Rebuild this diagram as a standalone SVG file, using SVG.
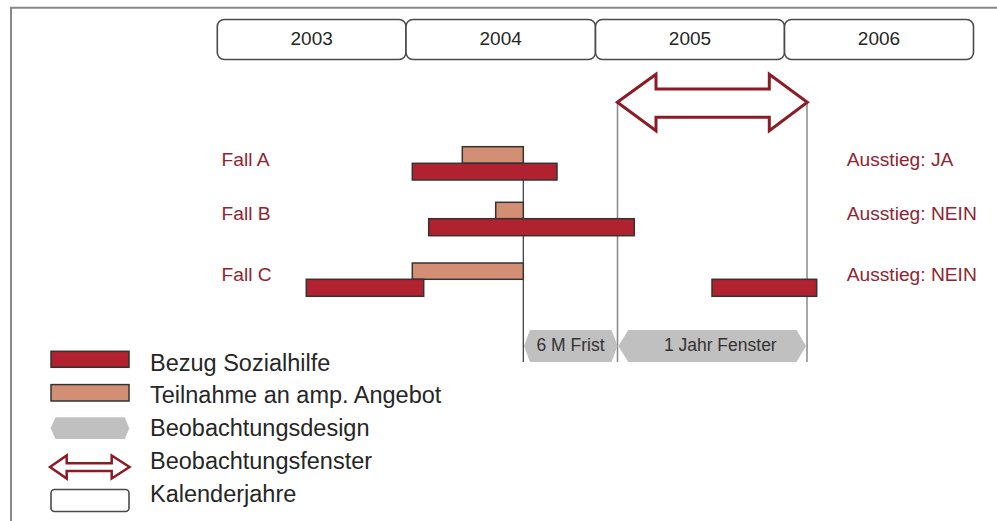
<svg xmlns="http://www.w3.org/2000/svg" width="997" height="521" viewBox="0 0 997 521">
<defs>
<style>
text{font-family:"Liberation Sans",Arial,sans-serif}
.year{fill:#fff;stroke:#4a4a4a;stroke-width:1.6}
.yt{font-size:19px;fill:#262626;text-anchor:middle}
.red{fill:#B0222F;stroke:#333;stroke-width:1.5}
.ora{fill:#D38F73;stroke:#333;stroke-width:1.5}
.hex{fill:#C0C0C0}
.ht{font-size:17.5px;fill:#333;text-anchor:middle}
.lbl{font-size:19.2px;fill:#8E2531}
.leg{font-size:23.5px;fill:#262626}
.arr{fill:#fff;stroke:#8B1C26;stroke-linejoin:miter}
.vg{stroke:#888;stroke-width:1.5;fill:none}
.vk{stroke:#333;stroke-width:1.2;fill:none}
</style>
</defs>
<rect width="997" height="521" fill="#fff"/>
<path d="M11 521V7.7H997" fill="none" stroke="#888" stroke-width="2"/>
<g id="years">
<g id="y2003"><rect class="year" x="217.3" y="19.5" width="188.7" height="40" rx="7"/><text class="yt" x="311.7" y="44.5">2003</text></g>
<g id="y2004"><rect class="year" x="406" y="19.5" width="189.5" height="40" rx="7"/><text class="yt" x="500.7" y="44.5">2004</text></g>
<g id="y2005"><rect class="year" x="595.5" y="19.5" width="189" height="40" rx="7"/><text class="yt" x="690" y="44.5">2005</text></g>
<g id="y2006"><rect class="year" x="784.5" y="19.5" width="189" height="40" rx="7"/><text class="yt" x="879" y="44.5">2006</text></g>
</g>
<g id="connectors">
<line class="vk" x1="523.3" y1="180" x2="523.3" y2="362"/>
<line class="vg" x1="617.5" y1="102" x2="617.5" y2="362"/>
<line class="vg" x1="807" y1="102" x2="807" y2="362"/>
</g>
<g id="window">
<polygon class="arr" stroke-width="3" points="617.3,102.3 656,74.3 656,89 769.3,89 769.3,74.3 807.3,102.3 769.3,130.7 769.3,117.3 656,117.3 656,130.7"/>
</g>
<g id="fallA">
<rect class="ora" x="462.3" y="146.7" width="61" height="16.6"/>
<rect class="red" x="412.3" y="163.3" width="144.7" height="16.7"/>
<text class="lbl" x="221.5" y="166">Fall A</text>
<text class="lbl" x="846.7" y="165.5">Ausstieg: JA</text>
</g>
<g id="fallB">
<rect class="ora" x="495.7" y="202.3" width="27.6" height="16.4"/>
<rect class="red" x="428.7" y="218.7" width="205.6" height="17"/>
<text class="lbl" x="221.5" y="220">Fall B</text>
<text class="lbl" x="846.7" y="220">Ausstieg: NEIN</text>
</g>
<g id="fallC">
<rect class="ora" x="412.3" y="263" width="111" height="16.3"/>
<rect class="red" x="306.3" y="279.3" width="117.4" height="17"/>
<rect class="red" x="712" y="279.3" width="104.7" height="17"/>
<text class="lbl" x="221.5" y="280.5">Fall C</text>
<text class="lbl" x="846.7" y="280.5">Ausstieg: NEIN</text>
</g>
<g id="frist">
<polygon class="hex" points="524,346 530,330 611.5,330 617.5,346 611.5,362 530,362"/>
<text class="ht" x="570.5" y="351">6 M Frist</text>
</g>
<g id="fenster">
<polygon class="hex" points="618.3,346 628.3,330 796.5,330 806,346 796.5,362 628.3,362"/>
<text class="ht" x="720.3" y="351">1 Jahr Fenster</text>
</g>
<g id="legend">
<rect class="red" x="51" y="351.3" width="78" height="16"/>
<text class="leg" x="150" y="371">Bezug Sozialhilfe</text>
<rect class="ora" x="51" y="384.6" width="78" height="16.4"/>
<text class="leg" x="150" y="403.3">Teilnahme an amp. Angebot</text>
<polygon class="hex" points="50.7,428.2 55.5,417.3 124.7,417.3 129.3,428.2 124.7,439 55.5,439"/>
<text class="leg" x="150" y="436">Beobachtungsdesign</text>
<polygon class="arr" stroke-width="2.5" points="50,467 66.7,455.5 66.7,463.3 111.7,463.3 111.7,455.5 129.5,467 111.7,478.5 111.7,471 66.7,471 66.7,478.5"/>
<text class="leg" x="150" y="469">Beobachtungsfenster</text>
<rect class="year" x="51" y="489.5" width="78" height="22" rx="3.5" stroke-width="1.4"/>
<text class="leg" x="150" y="502">Kalenderjahre</text>
</g>
</svg>
